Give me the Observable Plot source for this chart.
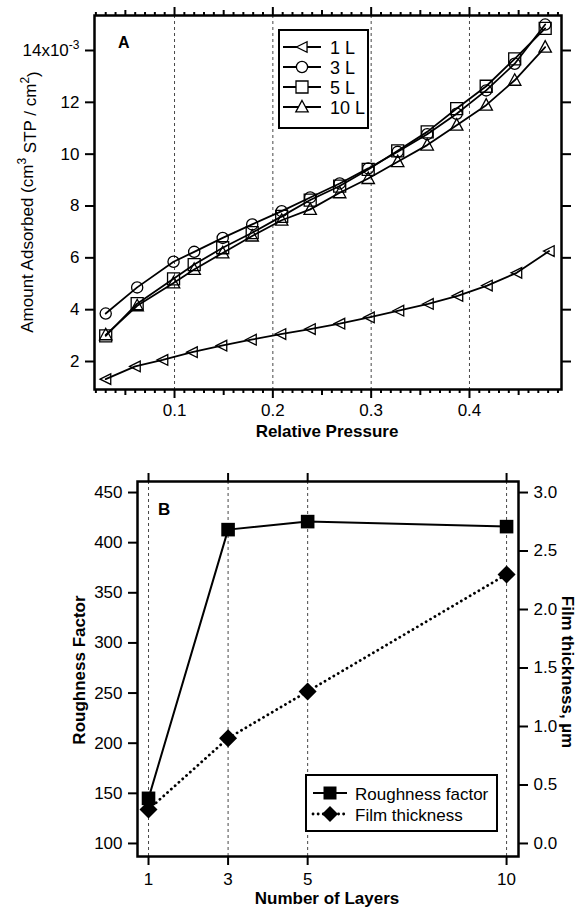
<!DOCTYPE html>
<html>
<head>
<meta charset="utf-8">
<script src="https://cdn.jsdelivr.net/npm/d3@7"></script>
<script src="https://cdn.jsdelivr.net/npm/@observablehq/plot@0.6"></script>
<style>
  html, body { margin: 0; padding: 0; background: white; }
  #chart svg { display: block; }
</style>
</head>
<body>
<div id="chart"></div>
<script>
// ---------- Panel A data (amount adsorbed, units of 10^-3 cm3 STP / cm2) ----------
const seriesNames = ["1 L", "3 L", "5 L", "10 L"];
const pressure1L = [0.03, 0.06, 0.088, 0.118, 0.148, 0.178, 0.208, 0.238, 0.268, 0.298, 0.328, 0.358, 0.388, 0.418, 0.448, 0.481];
const pressure   = [0.03, 0.062, 0.099, 0.12, 0.149, 0.179, 0.209, 0.238, 0.268, 0.297, 0.327, 0.357, 0.387, 0.417, 0.446, 0.477];
const ads1L  = [1.32, 1.81, 2.06, 2.36, 2.61, 2.84, 3.06, 3.25, 3.46, 3.70, 3.96, 4.22, 4.53, 4.93, 5.42, 6.26];
const ads3L  = [3.85, 4.86, 5.85, 6.23, 6.77, 7.29, 7.80, 8.33, 8.87, 9.45, 10.09, 10.77, 11.56, 12.46, 13.49, 15.0];
const ads5L  = [2.99, 4.23, 5.19, 5.74, 6.39, 6.97, 7.60, 8.23, 8.77, 9.41, 10.13, 10.86, 11.76, 12.62, 13.68, 14.85];
const ads10L = [3.03, 4.15, 5.03, 5.55, 6.19, 6.84, 7.45, 7.87, 8.51, 9.06, 9.71, 10.35, 11.12, 11.89, 12.85, 14.13];
const xTicksA = [0.1, 0.2, 0.3, 0.4];
const yTicksA = [2, 4, 6, 8, 10, 12, 14];

// ---------- Panel B data ----------
const layers = [1, 3, 5, 10];
const roughness = [145, 413, 421, 416];
const thickness = [0.29, 0.9, 1.3, 2.3];
const yTicksLeftB = [100, 150, 200, 250, 300, 350, 400, 450];
const yTicksRightB = [0.0, 0.5, 1.0, 1.5, 2.0, 2.5, 3.0];

// ---------- symbols ----------
const rad = s => Math.sqrt(s / Math.PI);
const symTriLeft = {draw(c, s) { const r = rad(s); c.moveTo(-r, 0); c.lineTo(r * 0.9, -r * 0.95); c.lineTo(r * 0.9, r * 0.95); c.closePath(); }};
const symTriUp   = {draw(c, s) { const r = rad(s); c.moveTo(0, -r * 1.05); c.lineTo(r, r * 0.8); c.lineTo(-r, r * 0.8); c.closePath(); }};
const symSquare  = {draw(c, s) { const r = rad(s); c.rect(-r, -r, 2 * r, 2 * r); }};
const symCircle  = {draw(c, s) { const r = rad(s); c.moveTo(r, 0); c.arc(0, 0, r, 0, 2 * Math.PI); }};
const symDiamond = {draw(c, s) { const r = rad(s); c.moveTo(0, -r); c.lineTo(r, 0); c.lineTo(0, r); c.lineTo(-r, 0); c.closePath(); }};

const seriesSym = [symTriLeft, symCircle, symSquare, symTriUp];
const seriesR = [5.6, 5.6, 6, 6.2];
const seriesX = [pressure1L, pressure, pressure, pressure];
const seriesY = [ads1L, ads3L, ads5L, ads10L];

const tableA = seriesNames.map((name, k) =>
  seriesY[k].map((v, i) => ({series: name, x: seriesX[k][i], y: v})));

const font = "'Liberation Sans', Arial, Helvetica, sans-serif";
const baseStyle = {fontFamily: font, fontSize: "17px", color: "black", background: "white", overflow: "visible"};
const blank = () => "";

const minorA = d3.range(2, 50).map(i => i / 100).filter(v => Math.round(v * 100) % 5 !== 0);
const midA = [0.05, 0.15, 0.25, 0.35, 0.45];

// ---------- Panel A ----------
const plotA = Plot.plot({
  width: 578, height: 450,
  marginLeft: 94, marginRight: 17, marginTop: 15, marginBottom: 61,
  style: baseStyle,
  x: {domain: [0.0186, 0.4936]},
  y: {domain: [0.92, 15.35]},
  marks: [
    Plot.ruleX(xTicksA, {stroke: "#333", strokeWidth: 0.9, strokeDasharray: "3,3"}),
    ...tableA.map(d => Plot.line(d, {x: "x", y: "y", stroke: "black", strokeWidth: 1.8})),
    ...tableA.map((d, k) => Plot.dot(d, {x: "x", y: "y", symbol: seriesSym[k], r: seriesR[k], stroke: "black", strokeWidth: 1.3, fill: "none"})),
    Plot.axisY({anchor: "left", ticks: yTicksA, tickSize: 9, tickPadding: 6, strokeWidth: 2, label: null, tickFormat: d => d === 14 ? "14x10" : String(d)}),
    Plot.axisY({anchor: "right", ticks: yTicksA, tickSize: 9, strokeWidth: 2, label: null, tickFormat: blank}),
    Plot.axisX({anchor: "bottom", ticks: xTicksA, tickSize: 9, tickPadding: 5, strokeWidth: 2, label: null, tickFormat: d3.format(".1f")}),
    Plot.axisX({anchor: "bottom", ticks: midA, tickSize: 6, strokeWidth: 2, label: null, tickFormat: blank}),
    Plot.axisX({anchor: "bottom", ticks: minorA, tickSize: 4, strokeWidth: 2, label: null, tickFormat: blank}),
    Plot.axisX({anchor: "top", ticks: xTicksA, tickSize: 9, strokeWidth: 2, label: null, tickFormat: blank}),
    Plot.axisX({anchor: "top", ticks: midA, tickSize: 6, strokeWidth: 2, label: null, tickFormat: blank}),
    Plot.axisX({anchor: "top", ticks: minorA, tickSize: 4, strokeWidth: 2, label: null, tickFormat: blank}),
    Plot.frame({stroke: "black", strokeWidth: 2.5})
  ]
});

// ---------- Panel B ----------
const toLeft = t => 100 + t * 350 / 3;
const tableRough = layers.map((l, i) => ({x: l, y: roughness[i]}));
const tableThick = layers.map((l, i) => ({x: l, y: toLeft(thickness[i])}));

const plotB = Plot.plot({
  width: 578, height: 457,
  marginLeft: 137, marginRight: 60, marginTop: 31, marginBottom: 51,
  style: baseStyle,
  x: {domain: [0.723, 10.30]},
  y: {domain: [87, 461]},
  marks: [
    Plot.ruleX(layers, {stroke: "#333", strokeWidth: 0.9, strokeDasharray: "3,3"}),
    Plot.line(tableRough, {x: "x", y: "y", stroke: "black", strokeWidth: 2}),
    Plot.line(tableThick, {x: "x", y: "y", stroke: "black", strokeWidth: 2.8, strokeDasharray: "0.1,5", strokeLinecap: "round"}),
    Plot.dot(tableRough, {x: "x", y: "y", symbol: symSquare, r: 6.8, fill: "black", stroke: "none"}),
    Plot.dot(tableThick, {x: "x", y: "y", symbol: symDiamond, r: 9, fill: "black", stroke: "none"}),
    Plot.axisY({anchor: "left", ticks: yTicksLeftB, tickSize: 9, tickPadding: 6, strokeWidth: 2, label: null}),
    Plot.axisY({anchor: "right", ticks: yTicksRightB.map(toLeft), tickSize: 9, tickPadding: 6, strokeWidth: 2, label: null,
      tickFormat: d => ((d - 100) * 3 / 350).toFixed(1)}),
    Plot.axisX({anchor: "bottom", ticks: layers, tickSize: 9, tickPadding: 7, strokeWidth: 2, label: null, tickFormat: d => String(d)}),
    Plot.axisX({anchor: "top", ticks: layers, tickSize: 9, strokeWidth: 2, label: null, tickFormat: blank}),
    Plot.frame({stroke: "black", strokeWidth: 2.5})
  ]
});

// ---------- annotations ----------
const symPath = (sym, r) => d3.symbol().type(sym).size(Math.PI * r * r)();

(function decorateA() {
  const svg = d3.select(plotA);
  // superscript on the 14 tick
  svg.selectAll("text").filter(function() { return this.textContent === "14x10"; })
    .append("tspan").attr("dy", "-0.55em").attr("font-size", "12px").text("-3");
  // panel letter
  svg.append("text").attr("x", 118).attr("y", 48).attr("text-anchor", "start").attr("font-family", font)
    .attr("font-weight", "bold").attr("font-size", 16).text("A");
  // x title
  svg.append("text").attr("x", 327).attr("y", 437).attr("text-anchor", "middle")
    .attr("font-family", font).attr("font-weight", "bold").attr("font-size", 17).text("Relative Pressure");
  // y title
  const yt = svg.append("text").attr("transform", "translate(33,202) rotate(-90)")
    .attr("text-anchor", "middle").attr("font-family", font).attr("font-size", 17);
  yt.append("tspan").text("Amount Adsorbed (cm");
  yt.append("tspan").attr("dy", "-0.55em").attr("font-size", 12).text("3");
  yt.append("tspan").attr("dy", "0.55em").text(" STP / cm");
  yt.append("tspan").attr("dy", "-0.55em").attr("font-size", 12).text("2");
  yt.append("tspan").attr("dy", "0.55em").text(")");
  // legend
  const lg = svg.append("g").attr("text-anchor", "start");
  lg.append("rect").attr("x", 279).attr("y", 30).attr("width", 89).attr("height", 98)
    .attr("fill", "white").attr("stroke", "black").attr("stroke-width", 2);
  seriesNames.forEach((name, k) => {
    const y = 47 + k * 20;
    lg.append("line").attr("x1", 283).attr("x2", 321).attr("y1", y).attr("y2", y)
      .attr("stroke", "black").attr("stroke-width", 1.8);
    lg.append("path").attr("d", symPath(seriesSym[k], seriesR[k])).attr("transform", `translate(302,${y})`)
      .attr("fill", "white").attr("stroke", "black").attr("stroke-width", 1.3);
    lg.append("text").attr("x", 330).attr("y", y + 6.5).attr("text-anchor", "start")
      .attr("font-family", font).attr("font-size", 18).text(name);
  });
})();

(function decorateB() {
  const svg = d3.select(plotB);
  const off = 450;
  svg.append("text").attr("x", 158).attr("y", 515 - off).attr("text-anchor", "start").attr("font-family", font)
    .attr("font-weight", "bold").attr("font-size", 17).text("B");
  svg.append("text").attr("x", 327).attr("y", 904 - off).attr("text-anchor", "middle")
    .attr("font-family", font).attr("font-weight", "bold").attr("font-size", 17).text("Number of Layers");
  svg.append("text").attr("transform", `translate(85,${670 - off}) rotate(-90)`).attr("text-anchor", "middle")
    .attr("font-family", font).attr("font-weight", "bold").attr("font-size", 17).text("Roughness Factor");
  svg.append("text").attr("transform", `translate(562,${672 - off}) rotate(90)`).attr("text-anchor", "middle")
    .attr("font-family", font).attr("font-weight", "bold").attr("font-size", 17).text("Film thickness, µm");
  // legend
  const lg = svg.append("g").attr("text-anchor", "start");
  lg.append("rect").attr("x", 306).attr("y", 775 - off).attr("width", 191).attr("height", 56)
    .attr("fill", "white").attr("stroke", "black").attr("stroke-width", 2);
  const entries = [
    {label: "Roughness factor", sym: symSquare, r: 6.5, dash: null, w: 2},
    {label: "Film thickness", sym: symDiamond, r: 8, dash: "0.1,5", w: 2.8}
  ];
  entries.forEach((e, k) => {
    const y = 793 + k * 21 - off;
    const ln = lg.append("line").attr("x1", 313).attr("x2", 347).attr("y1", y).attr("y2", y)
      .attr("stroke", "black").attr("stroke-width", e.w);
    if (e.dash) ln.attr("stroke-dasharray", e.dash).attr("stroke-linecap", "round");
    lg.append("path").attr("d", symPath(e.sym, e.r)).attr("transform", `translate(330,${y})`).attr("fill", "black");
    lg.append("text").attr("x", 355).attr("y", y + 6.5).attr("text-anchor", "start")
      .attr("font-family", font).attr("font-size", 17).text(e.label);
  });
})();

document.getElementById("chart").append(plotA, plotB);
</script>
</body>
</html>
